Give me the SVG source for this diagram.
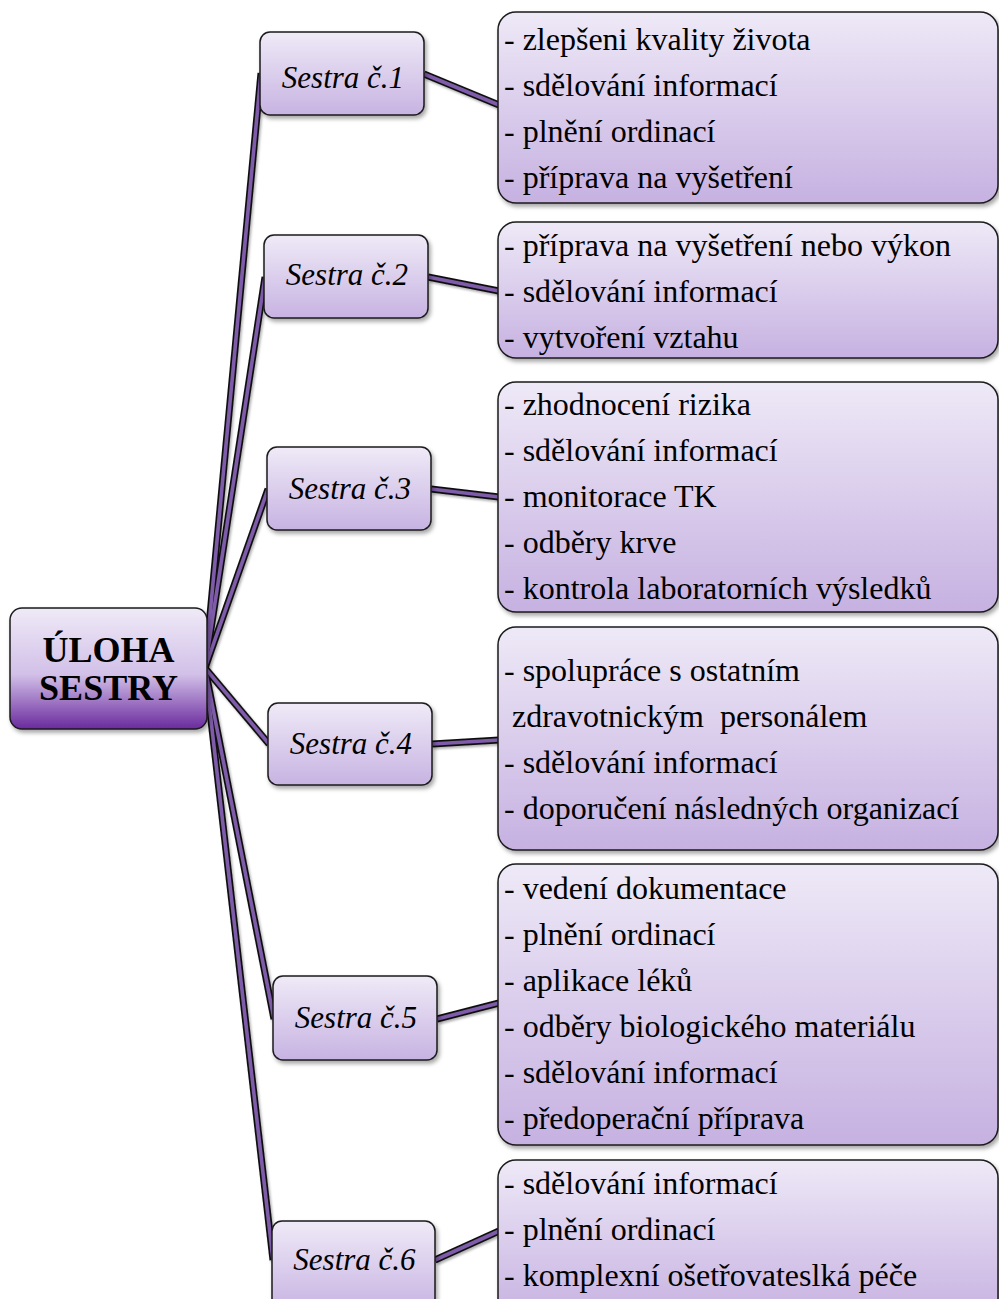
<svg xmlns="http://www.w3.org/2000/svg" width="999" height="1299" viewBox="0 0 999 1299">
  <defs>
    <linearGradient id="gCenter" x1="0" y1="0" x2="0" y2="1">
      <stop offset="0" stop-color="#efeaf7"/>
      <stop offset="0.55" stop-color="#d2c0e8"/>
      <stop offset="1" stop-color="#6a2a9e"/>
    </linearGradient>
    <linearGradient id="gNode" x1="0" y1="0" x2="0" y2="1">
      <stop offset="0" stop-color="#efeaf7"/>
      <stop offset="1" stop-color="#c7b3e2"/>
    </linearGradient>
    <linearGradient id="gBox" x1="0" y1="0" x2="0" y2="1">
      <stop offset="0" stop-color="#eee9f7"/>
      <stop offset="1" stop-color="#c6b1e1"/>
    </linearGradient>
    <filter id="shadow" x="-10%" y="-10%" width="125%" height="130%">
      <feDropShadow dx="2" dy="3" stdDeviation="2" flood-color="#000" flood-opacity="0.35"/>
    </filter>
    <filter id="lineShadow" x="-20%" y="-20%" width="140%" height="140%">
      <feDropShadow dx="1.5" dy="2" stdDeviation="1.2" flood-color="#000" flood-opacity="0.3"/>
    </filter>
  </defs>
  <style>
    .center { fill: url(#gCenter); stroke: #1a1a1a; stroke-width: 1.5; filter: url(#shadow); }
    .node { fill: url(#gNode); stroke: #1a1a1a; stroke-width: 1.5; filter: url(#shadow); }
    .box { fill: url(#gBox); stroke: #1a1a1a; stroke-width: 1.5; filter: url(#shadow); }
    .title { font-family: "Liberation Serif", "Times New Roman", serif; font-weight: bold; font-size: 36px; fill: #000; text-anchor: middle; }
    .label { font-family: "Liberation Serif", "Times New Roman", serif; font-style: italic; font-size: 31px; fill: #000; text-anchor: middle; }
    .item { font-family: "Liberation Serif", "Times New Roman", serif; font-size: 32px; fill: #000; }
    .edge-out { stroke: #111; stroke-width: 7; fill: none; stroke-linecap: butt; }
    .edge-in { stroke: #7f5caa; stroke-width: 3.6; fill: none; stroke-linecap: butt; }
  </style>

  <rect width="999" height="1299" fill="#ffffff"/>

  <!-- connectors -->
  <g id="connectors" filter="url(#lineShadow)">
    <g class="edge-out">
      <line x1="205" y1="668" x2="261" y2="73"/>
      <line x1="205" y1="668" x2="265" y2="277"/>
      <line x1="205" y1="668" x2="268" y2="489"/>
      <line x1="205" y1="668" x2="269" y2="744"/>
      <line x1="205" y1="668" x2="274" y2="1019"/>
      <line x1="205" y1="668" x2="273" y2="1260"/>
      <line x1="424" y1="74" x2="499" y2="105"/>
      <line x1="428" y1="277" x2="499" y2="291"/>
      <line x1="431" y1="489" x2="499" y2="497"/>
      <line x1="432" y1="744" x2="499" y2="740"/>
      <line x1="437" y1="1019" x2="499" y2="1003"/>
      <line x1="435" y1="1260" x2="499" y2="1231"/>
    </g>
    <g class="edge-in">
      <line x1="205" y1="668" x2="261" y2="73"/>
      <line x1="205" y1="668" x2="265" y2="277"/>
      <line x1="205" y1="668" x2="268" y2="489"/>
      <line x1="205" y1="668" x2="269" y2="744"/>
      <line x1="205" y1="668" x2="274" y2="1019"/>
      <line x1="205" y1="668" x2="273" y2="1260"/>
      <line x1="424" y1="74" x2="499" y2="105"/>
      <line x1="428" y1="277" x2="499" y2="291"/>
      <line x1="431" y1="489" x2="499" y2="497"/>
      <line x1="432" y1="744" x2="499" y2="740"/>
      <line x1="437" y1="1019" x2="499" y2="1003"/>
      <line x1="435" y1="1260" x2="499" y2="1231"/>
    </g>
  </g>

  <!-- central node -->
  <g id="uloha-sestry">
    <rect class="center" x="10" y="608" width="197" height="121" rx="12"/>
    <text class="title" x="108.5" y="662">ÚLOHA</text>
    <text class="title" x="108.5" y="700">SESTRY</text>
  </g>

  <!-- nurse nodes -->
  <g id="sestra-1">
    <rect class="node" x="260" y="32" width="164" height="83" rx="10"/>
    <text class="label" x="343" y="88">Sestra č.1</text>
  </g>
  <g id="sestra-2">
    <rect class="node" x="264" y="235" width="164" height="83" rx="10"/>
    <text class="label" x="347" y="285">Sestra č.2</text>
  </g>
  <g id="sestra-3">
    <rect class="node" x="267" y="447" width="164" height="83" rx="10"/>
    <text class="label" x="350" y="499">Sestra č.3</text>
  </g>
  <g id="sestra-4">
    <rect class="node" x="268" y="703" width="164" height="82" rx="10"/>
    <text class="label" x="351" y="754">Sestra č.4</text>
  </g>
  <g id="sestra-5">
    <rect class="node" x="273" y="976" width="164" height="84" rx="10"/>
    <text class="label" x="356" y="1028">Sestra č.5</text>
  </g>
  <g id="sestra-6">
    <rect class="node" x="272" y="1221" width="163" height="90" rx="10"/>
    <text class="label" x="354.5" y="1270">Sestra č.6</text>
  </g>

  <!-- task boxes -->
  <g id="ukoly-1">
    <rect class="box" x="498" y="12" width="500" height="191" rx="18"/>
    <text class="item" x="504" y="50">- zlepšeni kvality života</text>
    <text class="item" x="504" y="96">- sdělování informací</text>
    <text class="item" x="504" y="142">- plnění ordinací</text>
    <text class="item" x="504" y="188">- příprava na vyšetření</text>
  </g>
  <g id="ukoly-2">
    <rect class="box" x="498" y="222" width="500" height="136" rx="18"/>
    <text class="item" x="504" y="256">- příprava na vyšetření nebo výkon</text>
    <text class="item" x="504" y="302">- sdělování informací</text>
    <text class="item" x="504" y="348">- vytvoření vztahu</text>
  </g>
  <g id="ukoly-3">
    <rect class="box" x="498" y="382" width="500" height="230" rx="18"/>
    <text class="item" x="504" y="415">- zhodnocení rizika</text>
    <text class="item" x="504" y="461">- sdělování informací</text>
    <text class="item" x="504" y="507">- monitorace TK</text>
    <text class="item" x="504" y="553">- odběry krve</text>
    <text class="item" x="504" y="599">- kontrola laboratorních výsledků</text>
  </g>
  <g id="ukoly-4">
    <rect class="box" x="498" y="627" width="500" height="223" rx="18"/>
    <text class="item" x="504" y="681">- spolupráce s ostatním</text>
    <text class="item" x="504" y="727" xml:space="preserve"> zdravotnickým  personálem</text>
    <text class="item" x="504" y="773">- sdělování informací</text>
    <text class="item" x="504" y="819">- doporučení následných organizací</text>
  </g>
  <g id="ukoly-5">
    <rect class="box" x="498" y="864" width="500" height="281" rx="18"/>
    <text class="item" x="504" y="899">- vedení dokumentace</text>
    <text class="item" x="504" y="945">- plnění ordinací</text>
    <text class="item" x="504" y="991">- aplikace léků</text>
    <text class="item" x="504" y="1037">- odběry biologického materiálu</text>
    <text class="item" x="504" y="1083">- sdělování informací</text>
    <text class="item" x="504" y="1129">- předoperační příprava</text>
  </g>
  <g id="ukoly-6">
    <rect class="box" x="498" y="1160" width="500" height="160" rx="18"/>
    <text class="item" x="504" y="1194">- sdělování informací</text>
    <text class="item" x="504" y="1240">- plnění ordinací</text>
    <text class="item" x="504" y="1286">- komplexní ošetřovateslká péče</text>
  </g>
</svg>
